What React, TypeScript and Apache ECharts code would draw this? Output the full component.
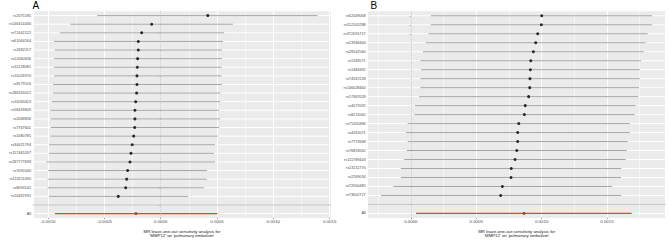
import React, { useEffect, useRef } from "react";
import * as echarts from "echarts";

// ---------- Data: panel A ----------
const snpsA = [
  "rs2075185", "rs146414430", "rs72442122", "rs61064164", "rs2682117", "rs12060636",
  "rs11228081", "rs11026970", "rs8179116", "rs186165021", "rs11063423", "rs56433609",
  "rs2068836", "rs7767601", "rs1080785", "rs34021794", "rs117465267", "rs187777698",
  "rs7092040", "rs113211090", "rs8093141", "rs20492931",
];
const estA = [
  0.000418, -0.00008, -0.000169, -0.000199, -0.000199, -0.000205, -0.000208, -0.000211,
  -0.000211, -0.000214, -0.000222, -0.000229, -0.000229, -0.000231, -0.00024, -0.000253,
  -0.000264, -0.000273, -0.000294, -0.000302, -0.000311, -0.000377,
];
const loA = [
  -0.000564, -0.000801, -0.000896, -0.000947, -0.00094, -0.000947, -0.000947, -0.000947,
  -0.000956, -0.000956, -0.00097, -0.000979, -0.000976, -0.000976, -0.000979, -0.000991,
  -0.000991, -0.001014, -0.001, -0.001005, -0.001005, -0.000991,
];
const hiA = [
  0.001393, 0.000641, 0.000563, 0.000554, 0.000545, 0.000545, 0.000543, 0.000539,
  0.000543, 0.00053, 0.000528, 0.000519, 0.000528, 0.000519, 0.000507, 0.000483,
  0.000472, 0.000483, 0.000412, 0.000409, 0.000383, 0.000243,
];
const allA = { est: -0.00022, lo: -0.00094, hi: 0.000504 };

// ---------- Data: panel B ----------
const snpsB = [
  "rs62049068", "rs112105288", "rs372091717", "rs13946464", "rs28542560", "rs1349571",
  "rs1484392", "rs74567228", "rs146028464", "rs17367028", "rs4077092", "rs8215062",
  "rs71450386", "rs4261071", "rs7772668", "rs76853562", "rs111789443", "rs13211770",
  "rs2269034", "rs72050485", "rs73602727",
];
const estB = [
  0.001001, 0.000998, 0.00097, 0.000955, 0.000937, 0.000917, 0.000914, 0.000911,
  0.000909, 0.000901, 0.000875, 0.000868, 0.000825, 0.000817, 0.000817, 0.00081,
  0.000797, 0.000768, 0.000766, 0.0007, 0.000687,
];
const loB = [
  0.000154, 0.000152, 0.000134, 0.000114, 0.000093, 0.000073, 0.000078, 0.000073,
  0.000073, 0.000063, 0.000032, 0.000027, -0.000024, -0.000039, -0.000024, -0.000031,
  -0.000052, -0.000077, -0.000077, -0.000134, -0.000228,
];
const hiB = [
  0.001846, 0.001846, 0.001811, 0.001796, 0.001781, 0.00176, 0.001752, 0.00175,
  0.001745, 0.001739, 0.001719, 0.001712, 0.001674, 0.001674, 0.001658, 0.001651,
  0.001643, 0.001609, 0.001607, 0.00154, 0.001609,
];
const allB = { est: 0.000865, lo: 0.00004, hi: 0.001689 };

const panelTags = ["A", "B"];
const axisTitles = [
  "MR leave-one-out sensitivity analysis for\n'MMP12' on 'pulmonary embolism'",
  "MR leave-one-out sensitivity analysis for\n'MMP12' on 'pulmonary embolism'",
];

const FONT = "Liberation Sans, Arial, sans-serif";

function buildPanel(
  gi: number,
  snps: string[],
  est: number[],
  lo: number[],
  hi: number[],
  all: { est: number; lo: number; hi: number },
  xmin: number,
  xmax: number,
  gridLeft: number
) {
  const cats = [...snps, "", "All"];
  const blankIdx = snps.length;
  const allIdx = snps.length + 1;

  const grid = {
    left: gridLeft,
    top: 11.3,
    width: 298,
    height: 213.4,
    show: true,
    backgroundColor: "#EBEBEB",
    borderWidth: 0,
  };
  const xAxis = {
    gridIndex: gi,
    type: "value",
    min: xmin,
    max: xmax,
    splitNumber: 5,
    name: axisTitles[gi],
    nameLocation: "middle",
    nameGap: 6.5,
    nameTextStyle: { fontSize: 4.3, color: "#1A1A1A", fontFamily: FONT, lineHeight: 4.6 },
    axisLine: { show: false },
    axisTick: { show: true, length: 1.2, lineStyle: { color: "#333", width: 0.5 } },
    axisLabel: {
      fontSize: 4.4,
      color: "#4D4D4D",
      fontFamily: FONT,
      margin: 2,
      showMinLabel: false,
      showMaxLabel: false,
      formatter: (v: number) => (Math.abs(v) < 1e-12 ? "0.0000" : v.toFixed(4)),
    },
    splitLine: { show: true, lineStyle: { color: "#FFFFFF", width: 1 } },
    minorTick: { show: false, splitNumber: 2 },
    minorSplitLine: { show: true, lineStyle: { color: "#FFFFFF", width: 0.5 } },
  };
  const yAxis = {
    gridIndex: gi,
    type: "category",
    data: cats,
    inverse: true,
    axisLine: { show: false },
    axisTick: { show: true, alignWithLabel: true, length: 1.2, lineStyle: { color: "#333", width: 0.5 } },
    axisLabel: { fontSize: 3.8, color: "#4D4D4D", fontFamily: FONT, margin: 2, interval: 0 },
    splitLine: { show: false },
  };

  const rowLines = cats.map((_, i) => [0, i]);
  const bars = snps.map((_, i) => [lo[i], hi[i], i]);

  const series = [
    {
      type: "custom",
      xAxisIndex: gi,
      yAxisIndex: gi,
      silent: true,
      z: 1,
      encode: { x: 0, y: 1 },
      data: rowLines,
      renderItem: (params: any, api: any) => {
        const cs = params.coordSys;
        const idx = api.value(1);
        const p = api.coord([api.value(0), idx]);
        const isBlank = idx === blankIdx;
        return {
          type: "line",
          shape: { x1: cs.x, y1: p[1], x2: cs.x + cs.width, y2: p[1] },
          style: { stroke: isBlank ? "#BEBEBE" : "#FFFFFF", lineWidth: isBlank ? 0.8 : 1 },
        };
      },
    },
    {
      type: "custom",
      xAxisIndex: gi,
      yAxisIndex: gi,
      silent: true,
      z: 3,
      encode: { x: [0, 1], y: 2 },
      data: bars,
      renderItem: (_params: any, api: any) => {
        const y = api.value(2);
        const p1 = api.coord([api.value(0), y]);
        const p2 = api.coord([api.value(1), y]);
        return {
          type: "line",
          shape: { x1: p1[0], y1: p1[1], x2: p2[0], y2: p2[1] },
          style: { stroke: "#9C9C9C", lineWidth: 0.9 },
        };
      },
    },
    {
      type: "custom",
      xAxisIndex: gi,
      yAxisIndex: gi,
      silent: true,
      z: 3,
      encode: { x: [0, 1], y: 2 },
      data: [[all.lo, all.hi, allIdx]],
      renderItem: (_params: any, api: any) => {
        const y = api.value(2);
        const p1 = api.coord([api.value(0), y]);
        const p2 = api.coord([api.value(1), y]);
        return {
          type: "line",
          shape: { x1: p1[0], y1: p1[1], x2: p2[0], y2: p2[1] },
          style: { stroke: "#E8403A", lineWidth: 1.4 },
        };
      },
    },
    {
      type: "scatter",
      xAxisIndex: gi,
      yAxisIndex: gi,
      silent: true,
      z: 4,
      symbol: "circle",
      symbolSize: 3,
      itemStyle: { color: "#000000" },
      data: est.map((v, i) => [v, i]),
      markLine: {
        silent: true,
        symbol: "none",
        label: { show: false },
        lineStyle: { type: [1, 1], color: "#A8A8A8", width: 0.8 },
        data: [{ xAxis: 0 }],
      },
    },
    {
      type: "scatter",
      xAxisIndex: gi,
      yAxisIndex: gi,
      silent: true,
      z: 4,
      symbol: "circle",
      symbolSize: 3,
      itemStyle: { color: "#C42020" },
      data: [[all.est, allIdx]],
    },
  ];
  return { grid, xAxis, yAxis, series };
}

export default function App() {
  const ref = useRef<HTMLDivElement>(null);
  useEffect(() => {
    if (!ref.current) return;
    const chart = echarts.init(ref.current, undefined, { renderer: "svg" });
    const pA = buildPanel(0, snpsA, estA, loA, hiA, allA, -0.001134, 0.001512, 33);
    const pB = buildPanel(1, snpsB, estB, loB, hiB, allB, -0.00033, 0.001949, 367.7);
    chart.setOption({
      animation: false,
      backgroundColor: "#FFFFFF",
      title: [
        { text: panelTags[0], left: 32.5, top: 0, padding: 0, textStyle: { fontSize: 10, fontWeight: "normal", color: "#000", fontFamily: FONT } },
        { text: panelTags[1], left: 370.5, top: 0, padding: 0, textStyle: { fontSize: 10, fontWeight: "normal", color: "#000", fontFamily: FONT } },
      ],
      grid: [pA.grid, pB.grid],
      xAxis: [pA.xAxis, pB.xAxis],
      yAxis: [pA.yAxis, pB.yAxis],
      series: [...pA.series, ...pB.series],
    });
    return () => chart.dispose();
  }, []);
  return (
    <div
      ref={ref}
      style={{ position: "absolute", left: 0, top: 0, width: 669, height: 243 }}
    />
  );
}
